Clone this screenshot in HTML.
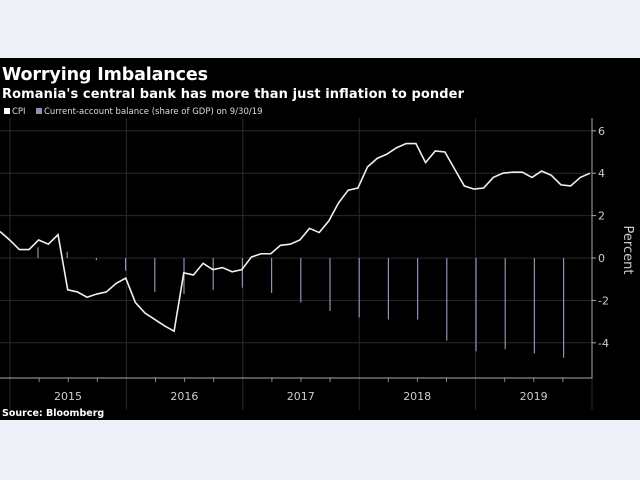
<!DOCTYPE html>
<html><head><meta charset="utf-8"><style>
html,body{margin:0;padding:0;width:640px;height:480px;background:#eef1f7;overflow:hidden;font-family:"DejaVu Sans","Liberation Sans",sans-serif}
#panel{position:absolute;left:0;top:58px;width:640px;height:362px;background:#000}
</style></head><body>
<div id="panel"></div>
<svg id="chart" width="640" height="480" style="position:absolute;left:0;top:0">
<text x="2" y="80" fill="#fff" font-size="17.5" font-weight="bold" textLength="206">Worrying Imbalances</text>
<text x="2" y="98" fill="#fff" font-size="13" font-weight="bold" textLength="462">Romania's central bank has more than just inflation to ponder</text>
<rect x="4" y="108" width="6" height="6" fill="#fff"/>
<text x="12" y="114" fill="#ddd" font-size="8.5">CPI</text>
<rect x="36" y="108" width="6" height="6" fill="#8a93b0"/>
<text x="44" y="114" fill="#ddd" font-size="8.5">Current-account balance (share of GDP) on 9/30/19</text>
<g id="grid"></g><g id="bars"></g><g id="line"></g><g id="axes"></g>
<text x="0" y="0" transform="translate(624,250) rotate(90)" fill="#ccc" font-size="13" text-anchor="middle">Percent</text>
<text x="2" y="416" fill="#fff" font-size="9.5" font-weight="bold">Source: Bloomberg</text>
</svg>
<script>
const cpi=[1.25,0.85,0.4,0.4,0.85,0.65,1.1,-1.5,-1.6,-1.85,-1.7,-1.6,-1.2,-0.95,-2.1,-2.6,-2.9,-3.2,-3.45,-0.7,-0.8,-0.25,-0.55,-0.45,-0.65,-0.55,0.05,0.2,0.2,0.6,0.65,0.85,1.4,1.2,1.75,2.6,3.2,3.3,4.3,4.7,4.9,5.2,5.4,5.4,4.5,5.05,5.0,4.2,3.4,3.25,3.3,3.8,4.0,4.05,4.05,3.8,4.1,3.9,3.45,3.4,3.8,4.0];
const currentAccount=[0.5,0.3,-0.1,-0.6,-1.6,-1.7,-1.5,-1.4,-1.65,-2.1,-2.5,-2.8,-2.9,-2.9,-3.9,-4.4,-4.3,-4.5,-4.7];
const yearLabels=["2015","2016","2017","2018","2019"];
const yTicks=[-4,-2,0,2,4,6];
const NS="http://www.w3.org/2000/svg";
const y=v=>258-v*21.2;
const xi=i=>i*590/(cpi.length-1);
const xq=k=>38+k*29.2;
const xYear=j=>10+j*116.4;
function mk(tag,attrs,parent){const e=document.createElementNS(NS,tag);for(const k in attrs)e.setAttribute(k,attrs[k]);document.getElementById(parent).appendChild(e);return e;}
const L=0,R=592,T=118,B=378;
yTicks.forEach(t=>{
 const g=mk('line',{x1:L,x2:R,y1:y(t),y2:y(t),stroke:'#2a2a2a','stroke-width':1},'grid');
 
 
 const tk=mk('line',{x1:R,x2:R+4,y1:y(t),y2:y(t),stroke:'#aaa'},'axes');
 
 
 const tx=mk('text',{x:R+6,y:y(t)+4,fill:'#ccc','font-size':11},'axes');
 tx.textContent=t;
 
 
});
for(let j=0;j<=5;j++){
 const g=mk('line',{x1:xYear(j),x2:xYear(j),y1:T,y2:B+32,stroke:'#2a2a2a'},'grid');
 
 
 for(let q=1;q<4&&j<5;q++){
  const m=mk('line',{x1:xYear(j)+q*29.1,x2:xYear(j)+q*29.1,y1:B,y2:B+4,stroke:'#888'},'axes');
  
  
 }
}
yearLabels.forEach((l,j)=>{
 const tx=mk('text',{x:xYear(j)+58,y:B+22,fill:'#ccc','font-size':11,'text-anchor':'middle'},'axes');
 tx.textContent=l;
 
 
});
const ax=mk('path',{d:`M${L} ${B}H${R}V${T}`,fill:'none',stroke:'#aaa'},'axes');


currentAccount.forEach((v,k)=>{
 const b=mk('line',{x1:xq(k),x2:xq(k),y1:y(0),y2:y(v),stroke:'#8a93b0','stroke-width':1.2},'bars');
 
 
});
const p=mk('polyline',{points:cpi.map((v,i)=>xi(i)+','+y(v)).join(' '),fill:'none',stroke:'#f0f0f0','stroke-width':1.6},'line');


</script>
</body></html>
